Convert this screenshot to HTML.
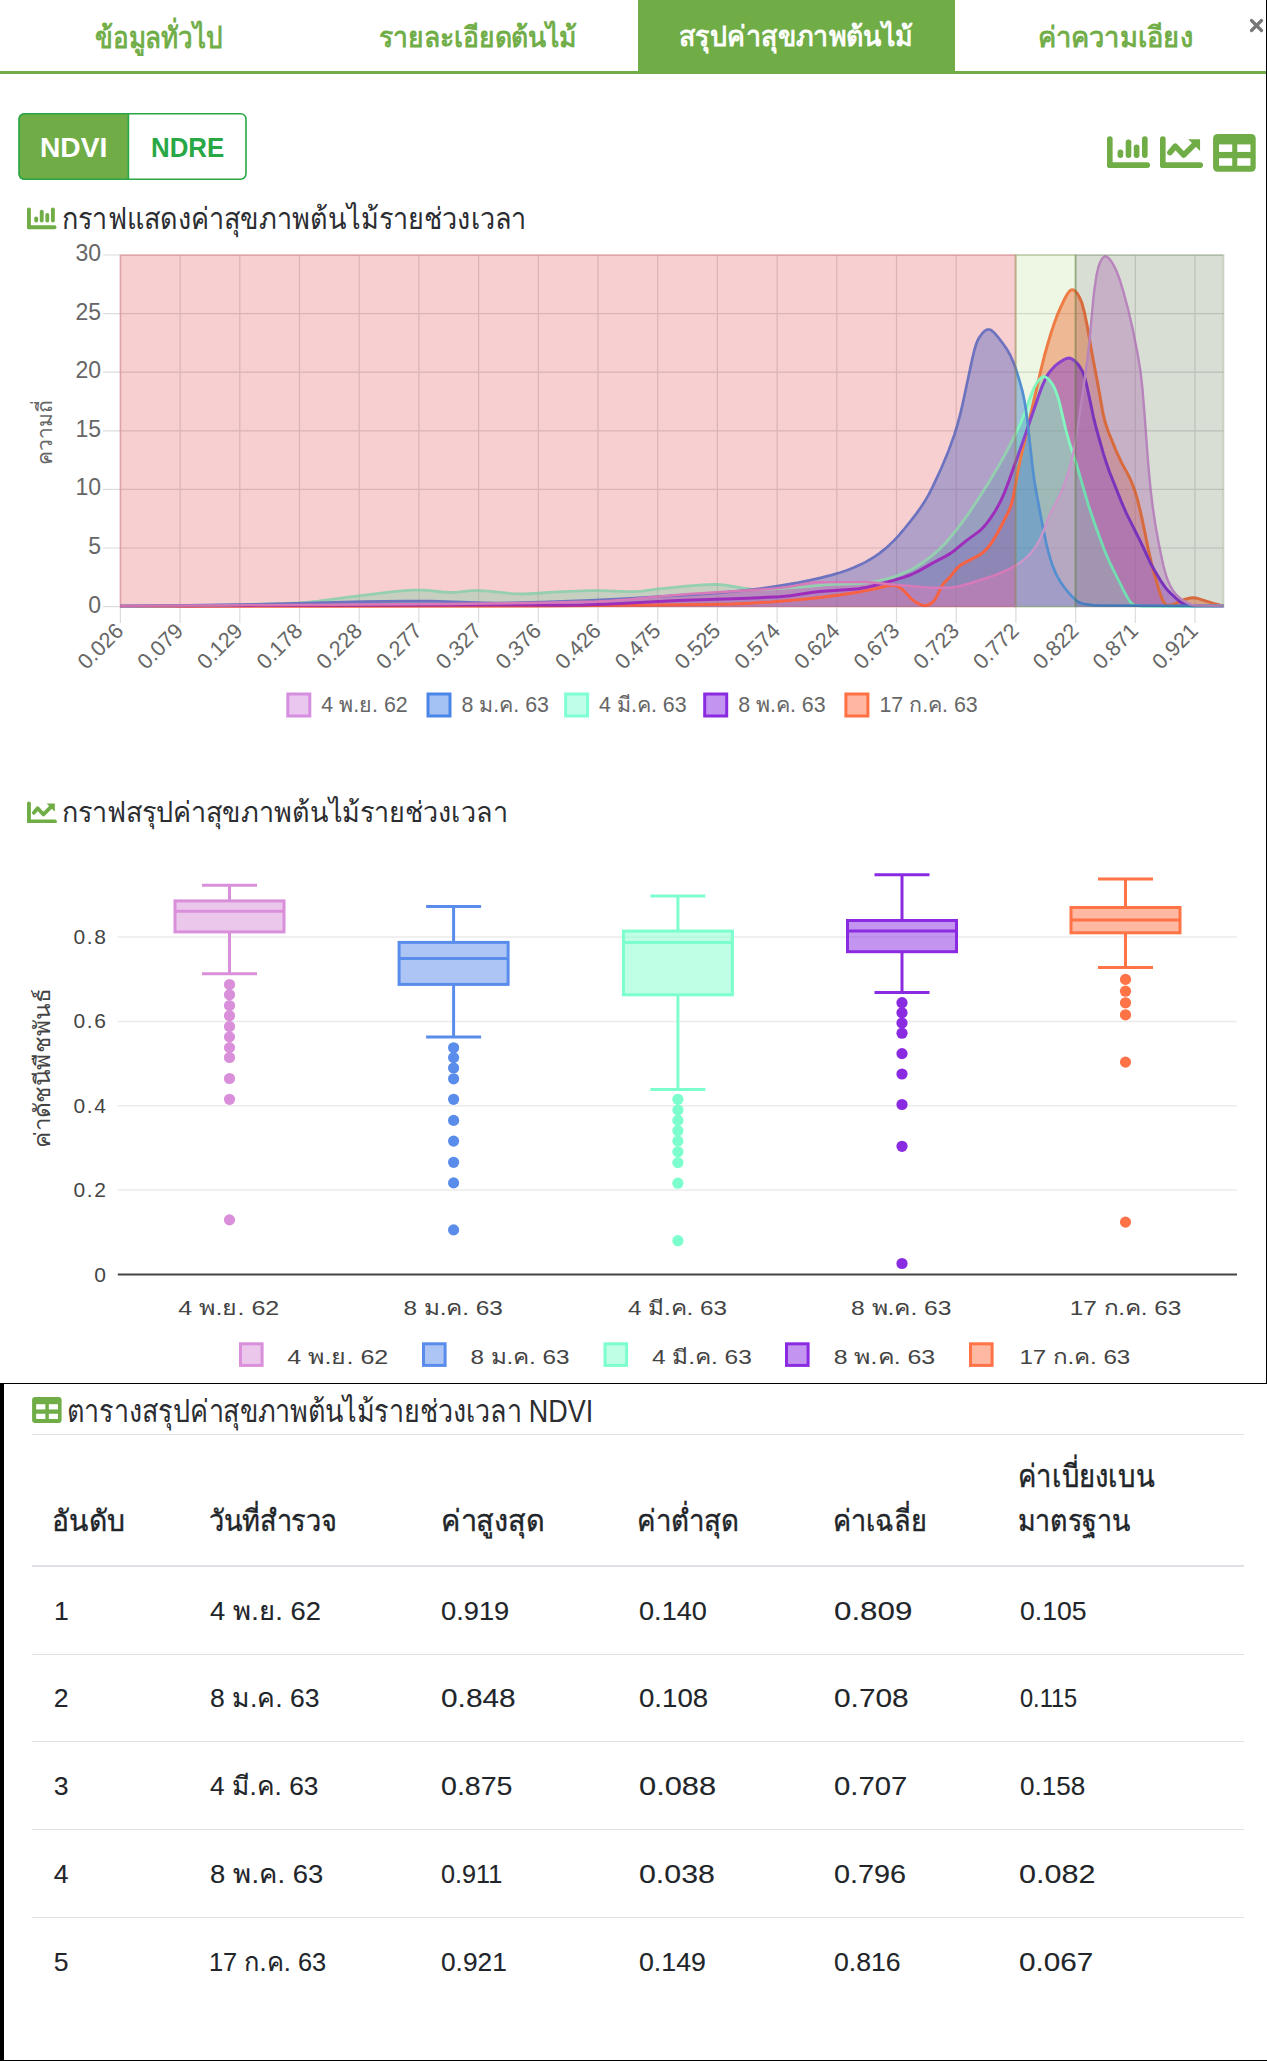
<!DOCTYPE html>
<html><head><meta charset="utf-8"><style>
html,body{margin:0;padding:0;background:#fff;}
body{width:1267px;height:2061px;position:relative;overflow:hidden;font-family:"Liberation Sans",sans-serif;}
.t{position:absolute;white-space:nowrap;transform-origin:0 0;}
.abs{position:absolute;}
svg text{font-family:"Liberation Sans",sans-serif;}
</style></head><body>
<!-- frame -->
<div class="abs" style="left:1265.5px;top:0;width:1.5px;height:1384px;background:#000"></div>
<div class="abs" style="left:0;top:1383px;width:1267px;height:1.3px;background:#000"></div>
<div class="abs" style="left:0;top:1383px;width:4px;height:678px;background:#000"></div>
<div class="abs" style="left:0;top:2059.6px;width:1267px;height:1.4px;background:#000"></div>
<!-- tabs -->
<div class="abs" style="left:638px;top:0;width:317px;height:74px;background:#70ad47"></div>
<div class="abs" style="left:0;top:71px;width:1265.5px;height:3px;background:#70ad47"></div>
<svg class="abs" style="left:1249px;top:18px" width="15" height="15" viewBox="0 0 15 15"><path d="M2.5 2.5 L12.5 12.5 M12.5 2.5 L2.5 12.5" stroke="#777" stroke-width="3.2" stroke-linecap="round"/></svg>
<!-- buttons -->
<svg class="abs" style="left:0;top:0" width="260" height="190"><defs><clipPath id="bc"><rect x="18.3" y="112.9" width="228.5" height="67.1" rx="6"/></clipPath></defs>
<rect x="18.3" y="112.9" width="110.1" height="67.1" fill="#70ad47" clip-path="url(#bc)"/>
<rect x="19.1" y="113.7" width="226.9" height="65.5" rx="5.4" fill="none" stroke="#28a745" stroke-width="1.6"/>
<line x1="128.4" x2="128.4" y1="113" y2="180" stroke="#28a745" stroke-width="1.6"/></svg>
<svg style="position:absolute;left:1107px;top:136.4px" width="43.5" height="32.2" viewBox="0 0 44 32"><g fill="#70ad47">
<rect x="0" y="0" width="5.7" height="32" rx="2.8"/><rect x="0" y="26.3" width="43.5" height="5.7" rx="2.8"/>
<rect x="10.7" y="13.3" width="5.7" height="8.8" rx="2.8"/><rect x="18.9" y="3.2" width="5.7" height="18.9" rx="2.8"/>
<rect x="27.1" y="8.2" width="5.7" height="13.9" rx="2.8"/><rect x="35.4" y="0" width="5.7" height="22.1" rx="2.8"/></g></svg>
<svg style="position:absolute;left:1160px;top:136.4px" width="43.5" height="32.2" viewBox="0 0 44 32"><g fill="#70ad47">
<rect x="0" y="0" width="5.7" height="32" rx="2.8"/><rect x="0" y="26.3" width="43.5" height="5.7" rx="2.8"/>
<path d="M28.5 3 L40.5 3 L40.5 15 Z"/></g>
<polyline points="10,16.5 15.5,10 24,19 35,8" fill="none" stroke="#70ad47" stroke-width="5.6" stroke-linecap="round" stroke-linejoin="round"/></svg>
<svg style="position:absolute;left:1212.8px;top:134px" width="42.8" height="37.7" viewBox="0 0 43 38">
<rect x="0" y="0" width="43" height="38" rx="4.5" fill="#70ad47"/>
<g fill="#fff"><rect x="6" y="10.5" width="13.3" height="7.6"/><rect x="24.4" y="10.5" width="13.3" height="7.6"/>
<rect x="6" y="24.4" width="13.3" height="7.6"/><rect x="24.4" y="24.4" width="13.3" height="7.6"/></g></svg>
<svg style="position:absolute;left:27.2px;top:207.3px" width="29.8" height="22.6" viewBox="0 0 44 32"><g fill="#70ad47">
<rect x="0" y="0" width="5.7" height="32" rx="2.8"/><rect x="0" y="26.3" width="43.5" height="5.7" rx="2.8"/>
<rect x="10.7" y="13.3" width="5.7" height="8.8" rx="2.8"/><rect x="18.9" y="3.2" width="5.7" height="18.9" rx="2.8"/>
<rect x="27.1" y="8.2" width="5.7" height="13.9" rx="2.8"/><rect x="35.4" y="0" width="5.7" height="22.1" rx="2.8"/></g></svg>
<svg style="position:absolute;left:27px;top:800.7px" width="30.2" height="22.8" viewBox="0 0 44 32"><g fill="#70ad47">
<rect x="0" y="0" width="5.7" height="32" rx="2.8"/><rect x="0" y="26.3" width="43.5" height="5.7" rx="2.8"/>
<path d="M28.5 3 L40.5 3 L40.5 15 Z"/></g>
<polyline points="10,16.5 15.5,10 24,19 35,8" fill="none" stroke="#70ad47" stroke-width="5.6" stroke-linecap="round" stroke-linejoin="round"/></svg>
<svg style="position:absolute;left:32px;top:1397px" width="29.7" height="26.1" viewBox="0 0 43 38">
<rect x="0" y="0" width="43" height="38" rx="4.5" fill="#70ad47"/>
<g fill="#fff"><rect x="6" y="10.5" width="13.3" height="7.6"/><rect x="24.4" y="10.5" width="13.3" height="7.6"/>
<rect x="6" y="24.4" width="13.3" height="7.6"/><rect x="24.4" y="24.4" width="13.3" height="7.6"/></g></svg>
<svg class="abs" style="left:0;top:0" width="1267" height="1383">
<path d="M103,606.6 H1223.5 M103,548.0 H1223.5 M103,489.4 H1223.5 M103,430.8 H1223.5 M103,372.2 H1223.5 M103,313.6 H1223.5 M103,255.0 H1223.5 M120.4,255 V623 M180.1,255 V623 M239.8,255 V623 M299.5,255 V623 M359.2,255 V623 M418.9,255 V623 M478.6,255 V623 M538.3,255 V623 M598.0,255 V623 M657.7,255 V623 M717.4,255 V623 M777.1,255 V623 M836.8,255 V623 M896.5,255 V623 M956.2,255 V623 M1015.9,255 V623 M1075.6,255 V623 M1135.3,255 V623 M1195.0,255 V623" stroke="rgba(0,0,0,0.1)" stroke-width="1.2" fill="none"/>
<path d="M120.4,606.5 L325.4,606.3 L532.4,605.9 L659.4,605.0 L704.4,604.5 L732.4,604.0 L750.4,603.2 L771.4,601.9 L803.4,599.2 L820.4,597.5 L839.4,595.0 L859.4,591.9 L876.4,588.5 L887.4,585.9 L890.4,585.4 L892.4,585.3 L894.4,585.6 L896.4,586.1 L899.4,587.5 L901.4,588.7 L904.4,591.3 L911.4,598.9 L913.4,600.6 L916.4,602.5 L919.4,604.1 L922.4,605.2 L925.4,605.5 L927.4,605.2 L929.4,604.3 L931.4,603.1 L933.4,601.3 L934.4,600.2 L936.4,597.1 L941.4,586.8 L943.4,583.8 L945.4,581.5 L950.4,576.6 L955.4,570.1 L958.4,566.9 L960.4,565.3 L963.4,563.4 L977.4,556.1 L980.4,554.4 L983.4,552.1 L987.4,548.2 L991.4,543.0 L995.4,536.6 L1001.4,525.7 L1008.4,511.8 L1010.4,507.1 L1011.4,504.2 L1013.4,496.4 L1018.4,468.7 L1020.4,459.1 L1040.4,372.2 L1044.4,356.0 L1047.4,345.1 L1051.4,331.9 L1054.4,322.9 L1057.4,314.8 L1060.4,307.8 L1064.4,299.3 L1067.4,293.9 L1069.4,291.3 L1070.4,290.4 L1071.4,289.9 L1072.4,289.8 L1073.4,290.0 L1074.4,290.5 L1075.4,291.3 L1077.4,293.8 L1079.4,297.2 L1081.4,301.8 L1082.4,304.8 L1084.4,312.3 L1087.4,327.0 L1092.4,355.8 L1097.4,381.9 L1102.4,410.1 L1103.4,415.0 L1105.4,423.1 L1108.4,432.0 L1116.4,451.6 L1121.4,462.4 L1127.4,473.4 L1130.4,479.4 L1133.4,486.8 L1135.4,492.6 L1137.4,499.4 L1140.4,511.4 L1143.4,525.2 L1148.4,549.9 L1151.4,562.9 L1154.4,574.2 L1158.4,588.1 L1160.4,594.4 L1162.4,599.6 L1164.4,603.2 L1165.4,604.3 L1166.4,605.0 L1167.4,605.3 L1169.4,605.3 L1173.4,604.4 L1176.4,603.2 L1181.4,600.7 L1185.4,599.2 L1190.4,598.0 L1193.4,597.8 L1195.4,597.9 L1197.4,598.4 L1213.4,603.4 L1220.4,605.3 L1223.4,605.9 L1223.4,606.6 L120.4,606.6 Z" fill="rgba(255,112,67,0.5)"/>
<path d="M120.4,606.0 L462.4,605.0 L506.4,605.0 L561.4,605.3 L583.4,605.0 L611.4,603.9 L677.4,600.6 L748.4,598.3 L779.4,596.7 L790.4,595.7 L811.4,592.5 L819.4,591.6 L849.4,589.5 L858.4,588.7 L865.4,587.6 L873.4,585.8 L894.4,580.1 L903.4,577.4 L911.4,574.5 L918.4,571.1 L933.4,562.6 L945.4,556.4 L950.4,553.4 L955.4,549.7 L966.4,540.6 L978.4,531.9 L981.4,529.3 L984.4,526.1 L987.4,522.4 L990.4,518.4 L995.4,510.7 L1000.4,501.6 L1004.4,492.8 L1008.4,482.3 L1024.4,437.6 L1039.4,393.5 L1042.4,385.6 L1045.4,378.8 L1047.4,375.3 L1049.4,372.3 L1052.4,368.7 L1055.4,365.6 L1059.4,362.5 L1063.4,359.9 L1066.4,358.5 L1068.4,358.1 L1070.4,358.3 L1072.4,359.2 L1074.4,360.7 L1076.4,362.5 L1078.4,364.8 L1080.4,367.7 L1082.4,371.4 L1083.4,373.8 L1085.4,380.0 L1086.4,383.8 L1093.4,416.8 L1096.4,429.0 L1103.4,453.6 L1106.4,463.1 L1109.4,471.7 L1121.4,501.9 L1126.4,513.4 L1140.4,541.3 L1150.4,562.9 L1154.4,570.3 L1160.4,580.3 L1165.4,587.6 L1167.4,590.0 L1170.4,593.1 L1176.4,598.7 L1179.4,601.2 L1182.4,603.2 L1185.4,604.6 L1188.4,605.5 L1192.4,606.0 L1223.4,606.0 L1223.4,606.6 L120.4,606.6 Z" fill="rgba(138,43,226,0.5)"/>
<path d="M120.4,606.0 L170.4,605.8 L225.4,605.2 L264.4,604.2 L299.4,602.9 L308.4,602.2 L318.4,601.1 L348.4,597.1 L393.4,591.6 L404.4,590.6 L414.4,590.1 L424.4,590.2 L442.4,592.0 L450.4,592.5 L457.4,592.2 L471.4,590.7 L479.4,590.6 L488.4,591.2 L511.4,593.6 L517.4,593.9 L523.4,594.0 L533.4,593.5 L557.4,591.9 L589.4,590.7 L601.4,590.7 L626.4,591.7 L636.4,591.7 L642.4,591.1 L656.4,589.1 L686.4,586.1 L702.4,584.9 L715.4,584.5 L720.4,584.7 L725.4,585.2 L743.4,588.2 L750.4,589.1 L756.4,589.4 L767.4,589.2 L782.4,588.4 L804.4,586.9 L827.4,584.6 L854.4,583.8 L862.4,583.4 L867.4,582.9 L872.4,582.0 L885.4,579.2 L890.4,577.9 L895.4,576.3 L900.4,574.4 L906.4,571.8 L911.4,569.4 L915.4,567.3 L923.4,562.2 L932.4,555.4 L939.4,549.3 L943.4,545.2 L948.4,539.7 L956.4,530.0 L967.4,515.1 L976.4,501.8 L989.4,481.4 L999.4,464.6 L1005.4,453.7 L1010.4,444.1 L1016.4,432.1 L1020.4,423.6 L1024.4,413.9 L1030.4,396.7 L1032.4,391.7 L1034.4,387.3 L1036.4,383.6 L1039.4,379.3 L1041.4,377.4 L1042.4,376.9 L1043.4,376.6 L1044.4,376.7 L1046.4,377.5 L1049.4,380.1 L1052.4,384.1 L1054.4,387.9 L1055.4,390.2 L1057.4,395.7 L1059.4,402.4 L1065.4,428.0 L1069.4,442.8 L1076.4,464.0 L1088.4,505.1 L1095.4,525.8 L1104.4,550.0 L1109.4,561.8 L1123.4,590.0 L1128.4,599.2 L1130.4,602.1 L1132.4,604.1 L1134.4,605.1 L1137.4,605.7 L1142.4,606.2 L1180.4,606.3 L1223.4,606.0 L1223.4,606.6 L120.4,606.6 Z" fill="rgba(127,255,212,0.5)"/>
<path d="M120.4,606.0 L185.4,605.4 L257.4,604.4 L363.4,601.7 L404.4,601.1 L431.4,601.1 L484.4,602.8 L497.4,603.0 L510.4,602.9 L542.4,602.2 L590.4,600.4 L626.4,598.5 L697.4,594.4 L724.4,592.4 L745.4,590.4 L758.4,588.8 L772.4,586.9 L786.4,584.7 L798.4,582.6 L809.4,580.4 L820.4,577.9 L831.4,575.1 L840.4,572.5 L846.4,570.4 L853.4,567.7 L860.4,564.6 L865.4,562.1 L870.4,559.3 L875.4,556.2 L879.4,553.4 L884.4,549.4 L889.4,544.9 L894.4,540.1 L898.4,535.8 L903.4,530.0 L910.4,521.3 L916.4,513.6 L921.4,506.5 L925.4,500.3 L928.4,495.1 L932.4,487.4 L941.4,468.0 L948.4,451.2 L954.4,434.6 L957.4,424.9 L960.4,413.7 L963.4,400.5 L972.4,358.4 L974.4,350.0 L976.4,343.5 L977.4,341.0 L979.4,337.2 L982.4,333.2 L984.4,331.2 L985.4,330.5 L987.4,329.6 L988.4,329.5 L989.4,329.5 L991.4,330.3 L994.4,332.9 L997.4,336.4 L1002.4,342.8 L1007.4,350.1 L1010.4,355.5 L1013.4,362.2 L1015.4,367.7 L1019.4,380.3 L1022.4,391.1 L1024.4,400.6 L1025.4,406.5 L1027.4,420.9 L1032.4,465.9 L1034.4,481.0 L1036.4,492.8 L1042.4,524.8 L1046.4,544.1 L1048.4,552.1 L1050.4,559.1 L1052.4,565.2 L1055.4,572.6 L1057.4,576.6 L1060.4,581.7 L1064.4,587.5 L1068.4,592.5 L1071.4,595.8 L1075.4,599.7 L1077.4,601.4 L1079.4,602.6 L1081.4,603.3 L1084.4,604.0 L1092.4,605.1 L1100.4,605.5 L1127.4,605.7 L1223.4,606.0 L1223.4,606.6 L120.4,606.6 Z" fill="rgba(74,134,232,0.5)"/>
<path d="M120.4,606.0 L448.4,604.0 L531.4,603.0 L596.4,601.5 L610.4,600.8 L625.4,599.7 L673.4,595.3 L689.4,594.0 L750.4,590.2 L774.4,588.4 L787.4,587.1 L808.4,583.1 L813.4,582.4 L818.4,582.1 L864.4,582.0 L874.4,582.7 L906.4,585.7 L926.4,587.4 L935.4,587.7 L951.4,587.5 L957.4,586.6 L969.4,583.5 L991.4,576.4 L999.4,573.4 L1006.4,570.4 L1011.4,568.0 L1016.4,565.1 L1021.4,561.7 L1025.4,558.4 L1029.4,554.6 L1032.4,551.1 L1036.4,545.4 L1040.4,538.3 L1043.4,531.3 L1047.4,520.2 L1049.4,515.3 L1051.4,511.1 L1056.4,502.0 L1059.4,495.9 L1062.4,489.1 L1065.4,481.4 L1069.4,468.9 L1072.4,457.2 L1075.4,442.2 L1078.4,423.4 L1087.4,359.4 L1089.4,341.4 L1093.4,298.2 L1094.4,289.4 L1096.4,275.8 L1098.4,267.0 L1100.4,261.6 L1102.4,258.3 L1103.4,257.3 L1104.4,256.7 L1105.4,256.4 L1106.4,256.6 L1107.4,257.1 L1108.4,257.9 L1110.4,260.2 L1112.4,263.2 L1114.4,266.7 L1116.4,270.8 L1119.4,278.7 L1123.4,291.7 L1128.4,310.4 L1132.4,327.8 L1137.4,352.6 L1140.4,370.7 L1142.4,388.2 L1144.4,412.7 L1148.4,466.4 L1150.4,487.6 L1152.4,504.6 L1155.4,525.0 L1159.4,547.1 L1163.4,565.8 L1166.4,576.5 L1168.4,581.8 L1170.4,586.0 L1172.4,589.6 L1174.4,592.5 L1176.4,594.9 L1179.4,597.7 L1182.4,600.0 L1187.4,602.9 L1191.4,604.7 L1195.4,605.5 L1207.4,605.9 L1223.4,606.0 L1223.4,606.6 L120.4,606.6 Z" fill="rgba(214,143,224,0.5)"/>
<path d="M120.4,606.5 L325.4,606.3 L532.4,605.9 L659.4,605.0 L704.4,604.5 L732.4,604.0 L750.4,603.2 L771.4,601.9 L803.4,599.2 L820.4,597.5 L839.4,595.0 L859.4,591.9 L876.4,588.5 L887.4,585.9 L890.4,585.4 L892.4,585.3 L894.4,585.6 L896.4,586.1 L899.4,587.5 L901.4,588.7 L904.4,591.3 L911.4,598.9 L913.4,600.6 L916.4,602.5 L919.4,604.1 L922.4,605.2 L925.4,605.5 L927.4,605.2 L929.4,604.3 L931.4,603.1 L933.4,601.3 L934.4,600.2 L936.4,597.1 L941.4,586.8 L943.4,583.8 L945.4,581.5 L950.4,576.6 L955.4,570.1 L958.4,566.9 L960.4,565.3 L963.4,563.4 L977.4,556.1 L980.4,554.4 L983.4,552.1 L987.4,548.2 L991.4,543.0 L995.4,536.6 L1001.4,525.7 L1008.4,511.8 L1010.4,507.1 L1011.4,504.2 L1013.4,496.4 L1018.4,468.7 L1020.4,459.1 L1040.4,372.2 L1044.4,356.0 L1047.4,345.1 L1051.4,331.9 L1054.4,322.9 L1057.4,314.8 L1060.4,307.8 L1064.4,299.3 L1067.4,293.9 L1069.4,291.3 L1070.4,290.4 L1071.4,289.9 L1072.4,289.8 L1073.4,290.0 L1074.4,290.5 L1075.4,291.3 L1077.4,293.8 L1079.4,297.2 L1081.4,301.8 L1082.4,304.8 L1084.4,312.3 L1087.4,327.0 L1092.4,355.8 L1097.4,381.9 L1102.4,410.1 L1103.4,415.0 L1105.4,423.1 L1108.4,432.0 L1116.4,451.6 L1121.4,462.4 L1127.4,473.4 L1130.4,479.4 L1133.4,486.8 L1135.4,492.6 L1137.4,499.4 L1140.4,511.4 L1143.4,525.2 L1148.4,549.9 L1151.4,562.9 L1154.4,574.2 L1158.4,588.1 L1160.4,594.4 L1162.4,599.6 L1164.4,603.2 L1165.4,604.3 L1166.4,605.0 L1167.4,605.3 L1169.4,605.3 L1173.4,604.4 L1176.4,603.2 L1181.4,600.7 L1185.4,599.2 L1190.4,598.0 L1193.4,597.8 L1195.4,597.9 L1197.4,598.4 L1213.4,603.4 L1220.4,605.3 L1223.4,605.9" fill="none" stroke="rgb(255,112,67)" stroke-width="3" stroke-linejoin="round"/>
<path d="M120.4,606.0 L462.4,605.0 L506.4,605.0 L561.4,605.3 L583.4,605.0 L611.4,603.9 L677.4,600.6 L748.4,598.3 L779.4,596.7 L790.4,595.7 L811.4,592.5 L819.4,591.6 L849.4,589.5 L858.4,588.7 L865.4,587.6 L873.4,585.8 L894.4,580.1 L903.4,577.4 L911.4,574.5 L918.4,571.1 L933.4,562.6 L945.4,556.4 L950.4,553.4 L955.4,549.7 L966.4,540.6 L978.4,531.9 L981.4,529.3 L984.4,526.1 L987.4,522.4 L990.4,518.4 L995.4,510.7 L1000.4,501.6 L1004.4,492.8 L1008.4,482.3 L1024.4,437.6 L1039.4,393.5 L1042.4,385.6 L1045.4,378.8 L1047.4,375.3 L1049.4,372.3 L1052.4,368.7 L1055.4,365.6 L1059.4,362.5 L1063.4,359.9 L1066.4,358.5 L1068.4,358.1 L1070.4,358.3 L1072.4,359.2 L1074.4,360.7 L1076.4,362.5 L1078.4,364.8 L1080.4,367.7 L1082.4,371.4 L1083.4,373.8 L1085.4,380.0 L1086.4,383.8 L1093.4,416.8 L1096.4,429.0 L1103.4,453.6 L1106.4,463.1 L1109.4,471.7 L1121.4,501.9 L1126.4,513.4 L1140.4,541.3 L1150.4,562.9 L1154.4,570.3 L1160.4,580.3 L1165.4,587.6 L1167.4,590.0 L1170.4,593.1 L1176.4,598.7 L1179.4,601.2 L1182.4,603.2 L1185.4,604.6 L1188.4,605.5 L1192.4,606.0 L1223.4,606.0" fill="none" stroke="rgb(138,43,226)" stroke-width="3" stroke-linejoin="round"/>
<path d="M120.4,606.0 L170.4,605.8 L225.4,605.2 L264.4,604.2 L299.4,602.9 L308.4,602.2 L318.4,601.1 L348.4,597.1 L393.4,591.6 L404.4,590.6 L414.4,590.1 L424.4,590.2 L442.4,592.0 L450.4,592.5 L457.4,592.2 L471.4,590.7 L479.4,590.6 L488.4,591.2 L511.4,593.6 L517.4,593.9 L523.4,594.0 L533.4,593.5 L557.4,591.9 L589.4,590.7 L601.4,590.7 L626.4,591.7 L636.4,591.7 L642.4,591.1 L656.4,589.1 L686.4,586.1 L702.4,584.9 L715.4,584.5 L720.4,584.7 L725.4,585.2 L743.4,588.2 L750.4,589.1 L756.4,589.4 L767.4,589.2 L782.4,588.4 L804.4,586.9 L827.4,584.6 L854.4,583.8 L862.4,583.4 L867.4,582.9 L872.4,582.0 L885.4,579.2 L890.4,577.9 L895.4,576.3 L900.4,574.4 L906.4,571.8 L911.4,569.4 L915.4,567.3 L923.4,562.2 L932.4,555.4 L939.4,549.3 L943.4,545.2 L948.4,539.7 L956.4,530.0 L967.4,515.1 L976.4,501.8 L989.4,481.4 L999.4,464.6 L1005.4,453.7 L1010.4,444.1 L1016.4,432.1 L1020.4,423.6 L1024.4,413.9 L1030.4,396.7 L1032.4,391.7 L1034.4,387.3 L1036.4,383.6 L1039.4,379.3 L1041.4,377.4 L1042.4,376.9 L1043.4,376.6 L1044.4,376.7 L1046.4,377.5 L1049.4,380.1 L1052.4,384.1 L1054.4,387.9 L1055.4,390.2 L1057.4,395.7 L1059.4,402.4 L1065.4,428.0 L1069.4,442.8 L1076.4,464.0 L1088.4,505.1 L1095.4,525.8 L1104.4,550.0 L1109.4,561.8 L1123.4,590.0 L1128.4,599.2 L1130.4,602.1 L1132.4,604.1 L1134.4,605.1 L1137.4,605.7 L1142.4,606.2 L1180.4,606.3 L1223.4,606.0" fill="none" stroke="rgb(127,255,212)" stroke-width="2.8" stroke-linejoin="round"/>
<path d="M120.4,606.0 L185.4,605.4 L257.4,604.4 L363.4,601.7 L404.4,601.1 L431.4,601.1 L484.4,602.8 L497.4,603.0 L510.4,602.9 L542.4,602.2 L590.4,600.4 L626.4,598.5 L697.4,594.4 L724.4,592.4 L745.4,590.4 L758.4,588.8 L772.4,586.9 L786.4,584.7 L798.4,582.6 L809.4,580.4 L820.4,577.9 L831.4,575.1 L840.4,572.5 L846.4,570.4 L853.4,567.7 L860.4,564.6 L865.4,562.1 L870.4,559.3 L875.4,556.2 L879.4,553.4 L884.4,549.4 L889.4,544.9 L894.4,540.1 L898.4,535.8 L903.4,530.0 L910.4,521.3 L916.4,513.6 L921.4,506.5 L925.4,500.3 L928.4,495.1 L932.4,487.4 L941.4,468.0 L948.4,451.2 L954.4,434.6 L957.4,424.9 L960.4,413.7 L963.4,400.5 L972.4,358.4 L974.4,350.0 L976.4,343.5 L977.4,341.0 L979.4,337.2 L982.4,333.2 L984.4,331.2 L985.4,330.5 L987.4,329.6 L988.4,329.5 L989.4,329.5 L991.4,330.3 L994.4,332.9 L997.4,336.4 L1002.4,342.8 L1007.4,350.1 L1010.4,355.5 L1013.4,362.2 L1015.4,367.7 L1019.4,380.3 L1022.4,391.1 L1024.4,400.6 L1025.4,406.5 L1027.4,420.9 L1032.4,465.9 L1034.4,481.0 L1036.4,492.8 L1042.4,524.8 L1046.4,544.1 L1048.4,552.1 L1050.4,559.1 L1052.4,565.2 L1055.4,572.6 L1057.4,576.6 L1060.4,581.7 L1064.4,587.5 L1068.4,592.5 L1071.4,595.8 L1075.4,599.7 L1077.4,601.4 L1079.4,602.6 L1081.4,603.3 L1084.4,604.0 L1092.4,605.1 L1100.4,605.5 L1127.4,605.7 L1223.4,606.0" fill="none" stroke="rgb(74,134,232)" stroke-width="2.7" stroke-linejoin="round"/>
<path d="M120.4,606.0 L448.4,604.0 L531.4,603.0 L596.4,601.5 L610.4,600.8 L625.4,599.7 L673.4,595.3 L689.4,594.0 L750.4,590.2 L774.4,588.4 L787.4,587.1 L808.4,583.1 L813.4,582.4 L818.4,582.1 L864.4,582.0 L874.4,582.7 L906.4,585.7 L926.4,587.4 L935.4,587.7 L951.4,587.5 L957.4,586.6 L969.4,583.5 L991.4,576.4 L999.4,573.4 L1006.4,570.4 L1011.4,568.0 L1016.4,565.1 L1021.4,561.7 L1025.4,558.4 L1029.4,554.6 L1032.4,551.1 L1036.4,545.4 L1040.4,538.3 L1043.4,531.3 L1047.4,520.2 L1049.4,515.3 L1051.4,511.1 L1056.4,502.0 L1059.4,495.9 L1062.4,489.1 L1065.4,481.4 L1069.4,468.9 L1072.4,457.2 L1075.4,442.2 L1078.4,423.4 L1087.4,359.4 L1089.4,341.4 L1093.4,298.2 L1094.4,289.4 L1096.4,275.8 L1098.4,267.0 L1100.4,261.6 L1102.4,258.3 L1103.4,257.3 L1104.4,256.7 L1105.4,256.4 L1106.4,256.6 L1107.4,257.1 L1108.4,257.9 L1110.4,260.2 L1112.4,263.2 L1114.4,266.7 L1116.4,270.8 L1119.4,278.7 L1123.4,291.7 L1128.4,310.4 L1132.4,327.8 L1137.4,352.6 L1140.4,370.7 L1142.4,388.2 L1144.4,412.7 L1148.4,466.4 L1150.4,487.6 L1152.4,504.6 L1155.4,525.0 L1159.4,547.1 L1163.4,565.8 L1166.4,576.5 L1168.4,581.8 L1170.4,586.0 L1172.4,589.6 L1174.4,592.5 L1176.4,594.9 L1179.4,597.7 L1182.4,600.0 L1187.4,602.9 L1191.4,604.7 L1195.4,605.5 L1207.4,605.9 L1223.4,606.0" fill="none" stroke="rgb(214,143,224)" stroke-width="2.4" stroke-linejoin="round"/>
<rect x="120.4" y="255" width="895.1" height="351.6" fill="rgba(220,55,62,0.24)" stroke="rgba(220,55,62,0.22)" stroke-width="2"/>
<rect x="1015.5" y="255" width="60" height="351.6" fill="rgba(139,195,74,0.15)" stroke="rgba(130,170,80,0.3)" stroke-width="2"/>
<rect x="1075.5" y="255" width="148" height="351.6" fill="rgba(60,90,40,0.2)" stroke="rgba(60,90,40,0.18)" stroke-width="2"/>
<path d="M103,606.6 H1223.5 M103,548.0 H1223.5 M103,489.4 H1223.5 M103,430.8 H1223.5 M103,372.2 H1223.5 M103,313.6 H1223.5 M103,255.0 H1223.5 M120.4,255 V623 M180.1,255 V623 M239.8,255 V623 M299.5,255 V623 M359.2,255 V623 M418.9,255 V623 M478.6,255 V623 M538.3,255 V623 M598.0,255 V623 M657.7,255 V623 M717.4,255 V623 M777.1,255 V623 M836.8,255 V623 M896.5,255 V623 M956.2,255 V623 M1015.9,255 V623 M1075.6,255 V623 M1135.3,255 V623 M1195.0,255 V623" stroke="rgba(0,0,0,0.04)" stroke-width="1.2" fill="none"/>
<text x="101" y="612.6" text-anchor="end" font-size="23" fill="#666">0</text>
<text x="101" y="554.0" text-anchor="end" font-size="23" fill="#666">5</text>
<text x="101" y="495.4" text-anchor="end" font-size="23" fill="#666">10</text>
<text x="101" y="436.8" text-anchor="end" font-size="23" fill="#666">15</text>
<text x="101" y="378.2" text-anchor="end" font-size="23" fill="#666">20</text>
<text x="101" y="319.6" text-anchor="end" font-size="23" fill="#666">25</text>
<text x="101" y="261.0" text-anchor="end" font-size="23" fill="#666">30</text>
<text transform="translate(119.4,627) rotate(-45)" text-anchor="end" dy="7.5" font-size="21.6" fill="#666">0.026</text>
<text transform="translate(179.1,627) rotate(-45)" text-anchor="end" dy="7.5" font-size="21.6" fill="#666">0.079</text>
<text transform="translate(238.8,627) rotate(-45)" text-anchor="end" dy="7.5" font-size="21.6" fill="#666">0.129</text>
<text transform="translate(298.5,627) rotate(-45)" text-anchor="end" dy="7.5" font-size="21.6" fill="#666">0.178</text>
<text transform="translate(358.2,627) rotate(-45)" text-anchor="end" dy="7.5" font-size="21.6" fill="#666">0.228</text>
<text transform="translate(417.9,627) rotate(-45)" text-anchor="end" dy="7.5" font-size="21.6" fill="#666">0.277</text>
<text transform="translate(477.6,627) rotate(-45)" text-anchor="end" dy="7.5" font-size="21.6" fill="#666">0.327</text>
<text transform="translate(537.3,627) rotate(-45)" text-anchor="end" dy="7.5" font-size="21.6" fill="#666">0.376</text>
<text transform="translate(597.0,627) rotate(-45)" text-anchor="end" dy="7.5" font-size="21.6" fill="#666">0.426</text>
<text transform="translate(656.7,627) rotate(-45)" text-anchor="end" dy="7.5" font-size="21.6" fill="#666">0.475</text>
<text transform="translate(716.4,627) rotate(-45)" text-anchor="end" dy="7.5" font-size="21.6" fill="#666">0.525</text>
<text transform="translate(776.1,627) rotate(-45)" text-anchor="end" dy="7.5" font-size="21.6" fill="#666">0.574</text>
<text transform="translate(835.8,627) rotate(-45)" text-anchor="end" dy="7.5" font-size="21.6" fill="#666">0.624</text>
<text transform="translate(895.5,627) rotate(-45)" text-anchor="end" dy="7.5" font-size="21.6" fill="#666">0.673</text>
<text transform="translate(955.2,627) rotate(-45)" text-anchor="end" dy="7.5" font-size="21.6" fill="#666">0.723</text>
<text transform="translate(1014.9,627) rotate(-45)" text-anchor="end" dy="7.5" font-size="21.6" fill="#666">0.772</text>
<text transform="translate(1074.6,627) rotate(-45)" text-anchor="end" dy="7.5" font-size="21.6" fill="#666">0.822</text>
<text transform="translate(1134.3,627) rotate(-45)" text-anchor="end" dy="7.5" font-size="21.6" fill="#666">0.871</text>
<text transform="translate(1194.0,627) rotate(-45)" text-anchor="end" dy="7.5" font-size="21.6" fill="#666">0.921</text>
<text transform="translate(52,432) rotate(-90)" text-anchor="middle" font-size="21" fill="#666">ความถี่</text>
<rect x="287.8" y="694" width="22" height="22" fill="rgba(214,143,224,0.5)" stroke="rgb(214,143,224)" stroke-width="3"/>
<text x="321.3" y="712" font-size="21.4" fill="#666">4 พ.ย. 62</text>
<rect x="428.0" y="694" width="22" height="22" fill="rgba(74,134,232,0.5)" stroke="rgb(74,134,232)" stroke-width="3"/>
<text x="461.5" y="712" font-size="21.4" fill="#666">8 ม.ค. 63</text>
<rect x="565.6" y="694" width="22" height="22" fill="rgba(127,255,212,0.5)" stroke="rgb(127,255,212)" stroke-width="3"/>
<text x="599.1" y="712" font-size="21.4" fill="#666">4 มี.ค. 63</text>
<rect x="704.7" y="694" width="22" height="22" fill="rgba(138,43,226,0.5)" stroke="rgb(138,43,226)" stroke-width="3"/>
<text x="738.2" y="712" font-size="21.4" fill="#666">8 พ.ค. 63</text>
<rect x="845.9" y="694" width="22" height="22" fill="rgba(255,112,67,0.5)" stroke="rgb(255,112,67)" stroke-width="3"/>
<text x="879.4" y="712" font-size="21.4" fill="#666">17 ก.ค. 63</text>
<line x1="117.8" x2="1237" y1="1190.1" y2="1190.1" stroke="#ebebeb" stroke-width="1.5"/>
<line x1="117.8" x2="1237" y1="1105.7" y2="1105.7" stroke="#ebebeb" stroke-width="1.5"/>
<line x1="117.8" x2="1237" y1="1021.4" y2="1021.4" stroke="#ebebeb" stroke-width="1.5"/>
<line x1="117.8" x2="1237" y1="937.0" y2="937.0" stroke="#ebebeb" stroke-width="1.5"/>
<line x1="117.8" x2="1237" y1="1274.6" y2="1274.6" stroke="#444" stroke-width="2"/>
<text x="107.5" y="1281.5" text-anchor="end" font-size="21" letter-spacing="1.6" fill="#444">0</text>
<text x="107.5" y="1197.1" text-anchor="end" font-size="21" letter-spacing="1.6" fill="#444">0.2</text>
<text x="107.5" y="1112.7" text-anchor="end" font-size="21" letter-spacing="1.6" fill="#444">0.4</text>
<text x="107.5" y="1028.4" text-anchor="end" font-size="21" letter-spacing="1.6" fill="#444">0.6</text>
<text x="107.5" y="944.0" text-anchor="end" font-size="21" letter-spacing="1.6" fill="#444">0.8</text>
<line x1="229.5" x2="229.5" y1="885.3" y2="900.9" stroke="rgb(218,143,218)" stroke-width="3"/>
<line x1="229.5" x2="229.5" y1="931.9" y2="973.7" stroke="rgb(218,143,218)" stroke-width="3"/>
<line x1="202.0" x2="257.0" y1="885.3" y2="885.3" stroke="rgb(218,143,218)" stroke-width="3"/>
<line x1="202.0" x2="257.0" y1="973.7" y2="973.7" stroke="rgb(218,143,218)" stroke-width="3"/>
<rect x="175.0" y="900.9" width="109" height="31.0" fill="rgba(218,143,218,0.5)" stroke="rgb(218,143,218)" stroke-width="3"/>
<line x1="175.0" x2="284.0" y1="911.3" y2="911.3" stroke="rgb(218,143,218)" stroke-width="3"/>
<circle cx="229.5" cy="984.5" r="5.6" fill="rgb(218,143,218)"/>
<circle cx="229.5" cy="994.7" r="5.6" fill="rgb(218,143,218)"/>
<circle cx="229.5" cy="1005.5" r="5.6" fill="rgb(218,143,218)"/>
<circle cx="229.5" cy="1015.7" r="5.6" fill="rgb(218,143,218)"/>
<circle cx="229.5" cy="1026.5" r="5.6" fill="rgb(218,143,218)"/>
<circle cx="229.5" cy="1036.9" r="5.6" fill="rgb(218,143,218)"/>
<circle cx="229.5" cy="1047.6" r="5.6" fill="rgb(218,143,218)"/>
<circle cx="229.5" cy="1057.5" r="5.6" fill="rgb(218,143,218)"/>
<circle cx="229.5" cy="1078.5" r="5.6" fill="rgb(218,143,218)"/>
<circle cx="229.5" cy="1099.3" r="5.6" fill="rgb(218,143,218)"/>
<circle cx="229.5" cy="1219.9" r="5.6" fill="rgb(218,143,218)"/>
<line x1="453.6" x2="453.6" y1="906.6" y2="942.4" stroke="rgb(89,140,235)" stroke-width="3"/>
<line x1="453.6" x2="453.6" y1="984.4" y2="1037" stroke="rgb(89,140,235)" stroke-width="3"/>
<line x1="426.1" x2="481.1" y1="906.6" y2="906.6" stroke="rgb(89,140,235)" stroke-width="3"/>
<line x1="426.1" x2="481.1" y1="1037" y2="1037" stroke="rgb(89,140,235)" stroke-width="3"/>
<rect x="399.1" y="942.4" width="109" height="42.0" fill="rgba(89,140,235,0.5)" stroke="rgb(89,140,235)" stroke-width="3"/>
<line x1="399.1" x2="508.1" y1="958.4" y2="958.4" stroke="rgb(89,140,235)" stroke-width="3"/>
<circle cx="453.6" cy="1047.8" r="5.6" fill="rgb(89,140,235)"/>
<circle cx="453.6" cy="1057.6" r="5.6" fill="rgb(89,140,235)"/>
<circle cx="453.6" cy="1068" r="5.6" fill="rgb(89,140,235)"/>
<circle cx="453.6" cy="1078.8" r="5.6" fill="rgb(89,140,235)"/>
<circle cx="453.6" cy="1099.3" r="5.6" fill="rgb(89,140,235)"/>
<circle cx="453.6" cy="1120.4" r="5.6" fill="rgb(89,140,235)"/>
<circle cx="453.6" cy="1141.1" r="5.6" fill="rgb(89,140,235)"/>
<circle cx="453.6" cy="1162.3" r="5.6" fill="rgb(89,140,235)"/>
<circle cx="453.6" cy="1182.9" r="5.6" fill="rgb(89,140,235)"/>
<circle cx="453.6" cy="1229.9" r="5.6" fill="rgb(89,140,235)"/>
<line x1="677.9" x2="677.9" y1="896.1" y2="931.1" stroke="rgb(125,255,205)" stroke-width="3"/>
<line x1="677.9" x2="677.9" y1="994.8" y2="1089.4" stroke="rgb(125,255,205)" stroke-width="3"/>
<line x1="650.4" x2="705.4" y1="896.1" y2="896.1" stroke="rgb(125,255,205)" stroke-width="3"/>
<line x1="650.4" x2="705.4" y1="1089.4" y2="1089.4" stroke="rgb(125,255,205)" stroke-width="3"/>
<rect x="623.4" y="931.1" width="109" height="63.7" fill="rgba(125,255,205,0.5)" stroke="rgb(125,255,205)" stroke-width="3"/>
<line x1="623.4" x2="732.4" y1="942.4" y2="942.4" stroke="rgb(125,255,205)" stroke-width="3"/>
<circle cx="677.9" cy="1099.3" r="5.6" fill="rgb(125,255,205)"/>
<circle cx="677.9" cy="1110" r="5.6" fill="rgb(125,255,205)"/>
<circle cx="677.9" cy="1120.4" r="5.6" fill="rgb(125,255,205)"/>
<circle cx="677.9" cy="1130.7" r="5.6" fill="rgb(125,255,205)"/>
<circle cx="677.9" cy="1141.1" r="5.6" fill="rgb(125,255,205)"/>
<circle cx="677.9" cy="1151.8" r="5.6" fill="rgb(125,255,205)"/>
<circle cx="677.9" cy="1162.6" r="5.6" fill="rgb(125,255,205)"/>
<circle cx="677.9" cy="1183.2" r="5.6" fill="rgb(125,255,205)"/>
<circle cx="677.9" cy="1240.7" r="5.6" fill="rgb(125,255,205)"/>
<line x1="902" x2="902" y1="874.7" y2="920.5" stroke="rgb(138,43,226)" stroke-width="3"/>
<line x1="902" x2="902" y1="951.7" y2="992.5" stroke="rgb(138,43,226)" stroke-width="3"/>
<line x1="874.5" x2="929.5" y1="874.7" y2="874.7" stroke="rgb(138,43,226)" stroke-width="3"/>
<line x1="874.5" x2="929.5" y1="992.5" y2="992.5" stroke="rgb(138,43,226)" stroke-width="3"/>
<rect x="847.5" y="920.5" width="109" height="31.2" fill="rgba(138,43,226,0.5)" stroke="rgb(138,43,226)" stroke-width="3"/>
<line x1="847.5" x2="956.5" y1="930.9" y2="930.9" stroke="rgb(138,43,226)" stroke-width="3"/>
<circle cx="902" cy="1002.7" r="5.6" fill="rgb(138,43,226)"/>
<circle cx="902" cy="1012.8" r="5.6" fill="rgb(138,43,226)"/>
<circle cx="902" cy="1023" r="5.6" fill="rgb(138,43,226)"/>
<circle cx="902" cy="1033.2" r="5.6" fill="rgb(138,43,226)"/>
<circle cx="902" cy="1053.6" r="5.6" fill="rgb(138,43,226)"/>
<circle cx="902" cy="1074" r="5.6" fill="rgb(138,43,226)"/>
<circle cx="902" cy="1104.5" r="5.6" fill="rgb(138,43,226)"/>
<circle cx="902" cy="1146.3" r="5.6" fill="rgb(138,43,226)"/>
<circle cx="902" cy="1263.5" r="5.6" fill="rgb(138,43,226)"/>
<line x1="1125.5" x2="1125.5" y1="879" y2="907.5" stroke="rgb(255,115,70)" stroke-width="3"/>
<line x1="1125.5" x2="1125.5" y1="932.8" y2="967.4" stroke="rgb(255,115,70)" stroke-width="3"/>
<line x1="1098.0" x2="1153.0" y1="879" y2="879" stroke="rgb(255,115,70)" stroke-width="3"/>
<line x1="1098.0" x2="1153.0" y1="967.4" y2="967.4" stroke="rgb(255,115,70)" stroke-width="3"/>
<rect x="1071.0" y="907.5" width="109" height="25.3" fill="rgba(255,115,70,0.5)" stroke="rgb(255,115,70)" stroke-width="3"/>
<line x1="1071.0" x2="1180.0" y1="919.9" y2="919.9" stroke="rgb(255,115,70)" stroke-width="3"/>
<circle cx="1125.5" cy="979.4" r="5.6" fill="rgb(255,115,70)"/>
<circle cx="1125.5" cy="991.2" r="5.6" fill="rgb(255,115,70)"/>
<circle cx="1125.5" cy="1002.8" r="5.6" fill="rgb(255,115,70)"/>
<circle cx="1125.5" cy="1014.8" r="5.6" fill="rgb(255,115,70)"/>
<circle cx="1125.5" cy="1062.1" r="5.6" fill="rgb(255,115,70)"/>
<circle cx="1125.5" cy="1222.1" r="5.6" fill="rgb(255,115,70)"/>
<text x="178.3" y="1315" textLength="101.0" lengthAdjust="spacingAndGlyphs" font-size="20" fill="#444">4 พ.ย. 62</text>
<text x="403.6" y="1315" textLength="99.3" lengthAdjust="spacingAndGlyphs" font-size="20" fill="#444">8 ม.ค. 63</text>
<text x="628.0" y="1315" textLength="98.9" lengthAdjust="spacingAndGlyphs" font-size="20" fill="#444">4 มี.ค. 63</text>
<text x="851.0" y="1315" textLength="100.5" lengthAdjust="spacingAndGlyphs" font-size="20" fill="#444">8 พ.ค. 63</text>
<text x="1069.8" y="1315" textLength="111.5" lengthAdjust="spacingAndGlyphs" font-size="20" fill="#444">17 ก.ค. 63</text>
<text transform="translate(50,1148) rotate(-90)" x="0" textLength="159" lengthAdjust="spacingAndGlyphs" font-size="22" fill="#444">ค่าดัชนีพืชพันธ์</text>
<rect x="240.5" y="1343.8" width="21.6" height="21.6" fill="rgba(218,143,218,0.5)" stroke="rgb(218,143,218)" stroke-width="3"/>
<text x="287.3" y="1364" textLength="101.0" lengthAdjust="spacingAndGlyphs" font-size="20" fill="#444">4 พ.ย. 62</text>
<rect x="423.5" y="1343.8" width="21.6" height="21.6" fill="rgba(89,140,235,0.5)" stroke="rgb(89,140,235)" stroke-width="3"/>
<text x="470.5" y="1364" textLength="99.0" lengthAdjust="spacingAndGlyphs" font-size="20" fill="#444">8 ม.ค. 63</text>
<rect x="605.0" y="1343.8" width="21.6" height="21.6" fill="rgba(125,255,205,0.5)" stroke="rgb(125,255,205)" stroke-width="3"/>
<text x="652.0" y="1364" textLength="99.8" lengthAdjust="spacingAndGlyphs" font-size="20" fill="#444">4 มี.ค. 63</text>
<rect x="786.5" y="1343.8" width="21.6" height="21.6" fill="rgba(138,43,226,0.5)" stroke="rgb(138,43,226)" stroke-width="3"/>
<text x="833.7" y="1364" textLength="101.5" lengthAdjust="spacingAndGlyphs" font-size="20" fill="#444">8 พ.ค. 63</text>
<rect x="970.5" y="1343.8" width="21.6" height="21.6" fill="rgba(255,115,70,0.5)" stroke="rgb(255,115,70)" stroke-width="3"/>
<text x="1019.4" y="1364" textLength="110.9" lengthAdjust="spacingAndGlyphs" font-size="20" fill="#444">17 ก.ค. 63</text>
</svg>
<!-- table lines -->
<div class="abs" style="left:32px;top:1433.5px;width:1212px;height:1.5px;background:#dee2e6"></div>
<div class="abs" style="left:32px;top:1564.6px;width:1212px;height:2px;background:#dee2e6"></div>
<div class="abs" style="left:32px;top:1653.7px;width:1212px;height:1px;background:#dee2e6"></div>
<div class="abs" style="left:32px;top:1741.4px;width:1212px;height:1px;background:#dee2e6"></div>
<div class="abs" style="left:32px;top:1829.1px;width:1212px;height:1px;background:#dee2e6"></div>
<div class="abs" style="left:32px;top:1916.8px;width:1212px;height:1px;background:#dee2e6"></div>
<div class="t" style="left:94.92px;top:22.54px;font-size:29.48px;line-height:29.48px;color:#70ad47;font-weight:400;transform:scaleX(0.8845);-webkit-text-stroke:0.9px #70ad47">ข้อมูลทั่วไป</div>
<div class="t" style="left:378.93px;top:22.83px;font-size:28.45px;line-height:28.45px;color:#70ad47;font-weight:400;transform:scaleX(0.9330);-webkit-text-stroke:0.9px #70ad47">รายละเอียดต้นไม้</div>
<div class="t" style="left:679.37px;top:22.73px;font-size:27.76px;line-height:27.76px;color:#ffffff;font-weight:400;transform:scaleX(0.9657);-webkit-text-stroke:0.9px #ffffff">สรุปค่าสุขภาพต้นไม้</div>
<div class="t" style="left:1038.30px;top:23.24px;font-size:28.79px;line-height:28.79px;color:#70ad47;font-weight:400;transform:scaleX(0.9497);-webkit-text-stroke:0.9px #70ad47">ค่าความเอียง</div>
<div class="t" style="left:39.53px;top:134.14px;font-size:27.25px;line-height:27.25px;color:#ffffff;font-weight:700;transform:scaleX(1.0344)">NDVI</div>
<div class="t" style="left:150.60px;top:134.14px;font-size:27.25px;line-height:27.25px;color:#28a745;font-weight:700;transform:scaleX(0.9486)">NDRE</div>
<div class="t" style="left:62.21px;top:204.05px;font-size:30.17px;line-height:30.17px;color:#2b2d31;font-weight:400;transform:scaleX(0.8967)">กราฟแสดงค่าสุขภาพต้นไม้รายช่วงเวลา</div>
<div class="t" style="left:62.31px;top:798.39px;font-size:28.62px;line-height:28.62px;color:#2b2d31;font-weight:400;transform:scaleX(0.9426)">กราฟสรุปค่าสุขภาพต้นไม้รายช่วงเวลา</div>
<div class="t" style="left:67.26px;top:1395.51px;font-size:31.03px;line-height:31.03px;color:#2b2d31;font-weight:400;transform:scaleX(0.8686)">ตารางสรุปค่าสุขภาพต้นไม้รายช่วงเวลา NDVI</div>
<div class="t" style="left:51.97px;top:1505.79px;font-size:29.31px;line-height:29.31px;color:#212529;font-weight:400;transform:scaleX(0.9653);-webkit-text-stroke:0.4px #212529">อันดับ</div>
<div class="t" style="left:209.45px;top:1505.79px;font-size:29.31px;line-height:29.31px;color:#212529;font-weight:400;transform:scaleX(0.9269);-webkit-text-stroke:0.4px #212529">วันที่สำรวจ</div>
<div class="t" style="left:441.23px;top:1505.79px;font-size:29.31px;line-height:29.31px;color:#212529;font-weight:400;transform:scaleX(0.9851);-webkit-text-stroke:0.4px #212529">ค่าสูงสุด</div>
<div class="t" style="left:636.91px;top:1505.79px;font-size:29.31px;line-height:29.31px;color:#212529;font-weight:400;transform:scaleX(0.9442);-webkit-text-stroke:0.4px #212529">ค่าต่ำสุด</div>
<div class="t" style="left:832.55px;top:1505.79px;font-size:29.31px;line-height:29.31px;color:#212529;font-weight:400;transform:scaleX(0.9237);-webkit-text-stroke:0.4px #212529">ค่าเฉลี่ย</div>
<div class="t" style="left:1018.15px;top:1461.11px;font-size:31.38px;line-height:31.38px;color:#212529;font-weight:400;transform:scaleX(0.8771);-webkit-text-stroke:0.4px #212529">ค่าเบี่ยงเบน</div>
<div class="t" style="left:1018.17px;top:1505.79px;font-size:29.31px;line-height:29.31px;color:#212529;font-weight:400;transform:scaleX(0.9167);-webkit-text-stroke:0.4px #212529">มาตรฐาน</div>
<div class="t" style="left:53.90px;top:1597.71px;font-size:26.62px;line-height:26.62px;color:#212529;font-weight:400;transform:scaleX(1.0000);-webkit-text-stroke:0.1px #212529">1</div>
<div class="t" style="left:210.27px;top:1597.71px;font-size:26.62px;line-height:26.62px;color:#212529;font-weight:400;transform:scaleX(1.0274);-webkit-text-stroke:0.1px #212529">4 พ.ย. 62</div>
<div class="t" style="left:441.18px;top:1597.71px;font-size:26.62px;line-height:26.62px;color:#212529;font-weight:400;transform:scaleX(1.0250);-webkit-text-stroke:0.1px #212529">0.919</div>
<div class="t" style="left:638.68px;top:1597.71px;font-size:26.62px;line-height:26.62px;color:#212529;font-weight:400;transform:scaleX(1.0200);-webkit-text-stroke:0.1px #212529">0.140</div>
<div class="t" style="left:834.02px;top:1597.71px;font-size:26.62px;line-height:26.62px;color:#212529;font-weight:400;transform:scaleX(1.1766);-webkit-text-stroke:0.1px #212529">0.809</div>
<div class="t" style="left:1019.60px;top:1597.71px;font-size:26.62px;line-height:26.62px;color:#212529;font-weight:400;transform:scaleX(0.9985);-webkit-text-stroke:0.1px #212529">0.105</div>
<div class="t" style="left:53.70px;top:1685.41px;font-size:26.62px;line-height:26.62px;color:#212529;font-weight:400;transform:scaleX(1.0000);-webkit-text-stroke:0.1px #212529">2</div>
<div class="t" style="left:210.30px;top:1685.41px;font-size:26.62px;line-height:26.62px;color:#212529;font-weight:400;transform:scaleX(0.9963);-webkit-text-stroke:0.1px #212529">8 ม.ค. 63</div>
<div class="t" style="left:441.08px;top:1685.41px;font-size:26.62px;line-height:26.62px;color:#212529;font-weight:400;transform:scaleX(1.1215);-webkit-text-stroke:0.1px #212529">0.848</div>
<div class="t" style="left:638.66px;top:1685.41px;font-size:26.62px;line-height:26.62px;color:#212529;font-weight:400;transform:scaleX(1.0385);-webkit-text-stroke:0.1px #212529">0.108</div>
<div class="t" style="left:834.08px;top:1685.41px;font-size:26.62px;line-height:26.62px;color:#212529;font-weight:400;transform:scaleX(1.1215);-webkit-text-stroke:0.1px #212529">0.708</div>
<div class="t" style="left:1019.71px;top:1685.41px;font-size:26.62px;line-height:26.62px;color:#212529;font-weight:400;transform:scaleX(0.8857);-webkit-text-stroke:0.1px #212529">0.115</div>
<div class="t" style="left:53.70px;top:1773.11px;font-size:26.62px;line-height:26.62px;color:#212529;font-weight:400;transform:scaleX(1.0000);-webkit-text-stroke:0.1px #212529">3</div>
<div class="t" style="left:210.31px;top:1773.11px;font-size:26.62px;line-height:26.62px;color:#212529;font-weight:400;transform:scaleX(0.9852);-webkit-text-stroke:0.1px #212529">4 มี.ค. 63</div>
<div class="t" style="left:441.13px;top:1773.11px;font-size:26.62px;line-height:26.62px;color:#212529;font-weight:400;transform:scaleX(1.0738);-webkit-text-stroke:0.1px #212529">0.875</div>
<div class="t" style="left:638.54px;top:1773.11px;font-size:26.62px;line-height:26.62px;color:#212529;font-weight:400;transform:scaleX(1.1585);-webkit-text-stroke:0.1px #212529">0.088</div>
<div class="t" style="left:834.10px;top:1773.11px;font-size:26.62px;line-height:26.62px;color:#212529;font-weight:400;transform:scaleX(1.1000);-webkit-text-stroke:0.1px #212529">0.707</div>
<div class="t" style="left:1019.62px;top:1773.11px;font-size:26.62px;line-height:26.62px;color:#212529;font-weight:400;transform:scaleX(0.9800);-webkit-text-stroke:0.1px #212529">0.158</div>
<div class="t" style="left:53.70px;top:1860.81px;font-size:26.62px;line-height:26.62px;color:#212529;font-weight:400;transform:scaleX(1.0000);-webkit-text-stroke:0.1px #212529">4</div>
<div class="t" style="left:210.27px;top:1860.81px;font-size:26.62px;line-height:26.62px;color:#212529;font-weight:400;transform:scaleX(1.0306);-webkit-text-stroke:0.1px #212529">8 พ.ค. 63</div>
<div class="t" style="left:441.25px;top:1860.81px;font-size:26.62px;line-height:26.62px;color:#212529;font-weight:400;transform:scaleX(0.9484);-webkit-text-stroke:0.1px #212529">0.911</div>
<div class="t" style="left:638.56px;top:1860.81px;font-size:26.62px;line-height:26.62px;color:#212529;font-weight:400;transform:scaleX(1.1400);-webkit-text-stroke:0.1px #212529">0.038</div>
<div class="t" style="left:834.12px;top:1860.81px;font-size:26.62px;line-height:26.62px;color:#212529;font-weight:400;transform:scaleX(1.0831);-webkit-text-stroke:0.1px #212529">0.796</div>
<div class="t" style="left:1019.45px;top:1860.81px;font-size:26.62px;line-height:26.62px;color:#212529;font-weight:400;transform:scaleX(1.1469);-webkit-text-stroke:0.1px #212529">0.082</div>
<div class="t" style="left:53.70px;top:1948.51px;font-size:26.62px;line-height:26.62px;color:#212529;font-weight:400;transform:scaleX(1.0000);-webkit-text-stroke:0.1px #212529">5</div>
<div class="t" style="left:209.39px;top:1948.51px;font-size:26.62px;line-height:26.62px;color:#212529;font-weight:400;transform:scaleX(0.9542);-webkit-text-stroke:0.1px #212529">17 ก.ค. 63</div>
<div class="t" style="left:441.21px;top:1948.51px;font-size:26.62px;line-height:26.62px;color:#212529;font-weight:400;transform:scaleX(0.9875);-webkit-text-stroke:0.1px #212529">0.921</div>
<div class="t" style="left:638.70px;top:1948.51px;font-size:26.62px;line-height:26.62px;color:#212529;font-weight:400;transform:scaleX(1.0047);-webkit-text-stroke:0.1px #212529">0.149</div>
<div class="t" style="left:834.20px;top:1948.51px;font-size:26.62px;line-height:26.62px;color:#212529;font-weight:400;transform:scaleX(1.0015);-webkit-text-stroke:0.1px #212529">0.816</div>
<div class="t" style="left:1019.48px;top:1948.51px;font-size:26.62px;line-height:26.62px;color:#212529;font-weight:400;transform:scaleX(1.1172);-webkit-text-stroke:0.1px #212529">0.067</div>
</body></html>
